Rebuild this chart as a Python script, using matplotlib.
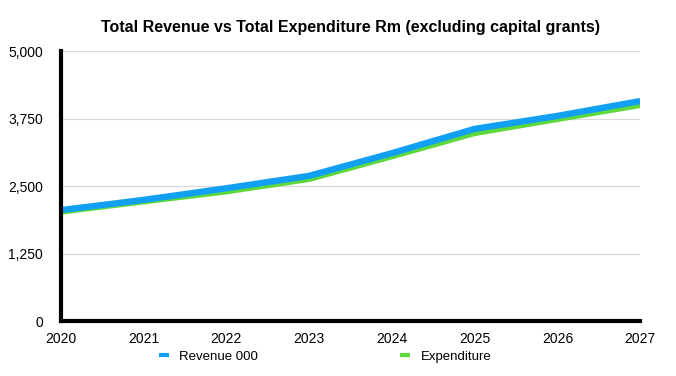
import matplotlib
matplotlib.use("Agg")
import matplotlib.pyplot as plt
import matplotlib.ticker as ticker

plt.rcParams["font.family"] = ["Liberation Sans", "DejaVu Sans"]

years = [2020, 2021, 2022, 2023, 2024, 2025, 2026, 2027]
revenue = [2055, 2245, 2460, 2690, 3110, 3560, 3800, 4075]
expenditure = [2025, 2215, 2400, 2630, 3050, 3480, 3740, 4000]
y_ticks = [0, 1250, 2500, 3750, 5000]

fig = plt.figure(figsize=(6.76, 3.76), dpi=100)
ax = fig.add_axes([0.090, 0.146, 0.857, 0.718])

ax.plot(years, expenditure, color="#5DD93B", lw=4.2, solid_capstyle="butt",
        label="Expenditure", zorder=3)
ax.plot(years, revenue, color="#12A0F5", lw=4.6, solid_capstyle="butt",
        label="Revenue 000", zorder=4)

ax.set_xlim(2020, 2027)
ax.set_ylim(0, 5000)
ax.set_xticks(years)
ax.set_yticks(y_ticks)
ax.yaxis.set_major_formatter(ticker.FuncFormatter(lambda v, _: f"{v:,.0f}"))
ax.tick_params(axis="both", length=0, labelsize=10)
ax.tick_params(axis="x", pad=8)
ax.tick_params(axis="y", pad=13)
ax.grid(axis="y", color="#d9d9d9", lw=0.9)
ax.set_axisbelow(True)

for side in ("top", "right"):
    ax.spines[side].set_visible(False)
for side in ("left", "bottom"):
    ax.spines[side].set_linewidth(3)
    ax.spines[side].set_color("black")
    ax.spines[side].set_zorder(5)

fig.text(0.519, 0.928, "Total Revenue vs Total Expenditure Rm (excluding capital grants)",
         ha="center", va="center", fontsize=11.5, fontweight="bold")

handles, labels = ax.get_legend_handles_labels()
leg = fig.legend(handles[::-1], labels[::-1], loc="center", ncol=2,
                 bbox_to_anchor=(0.481, 0.052), frameon=False, fontsize=9.5,
                 handlelength=0.75, columnspacing=10.8, handletextpad=0.8)
for line in leg.get_lines():
    line.set_linewidth(3)

fig.savefig("out.png", dpi=100)
